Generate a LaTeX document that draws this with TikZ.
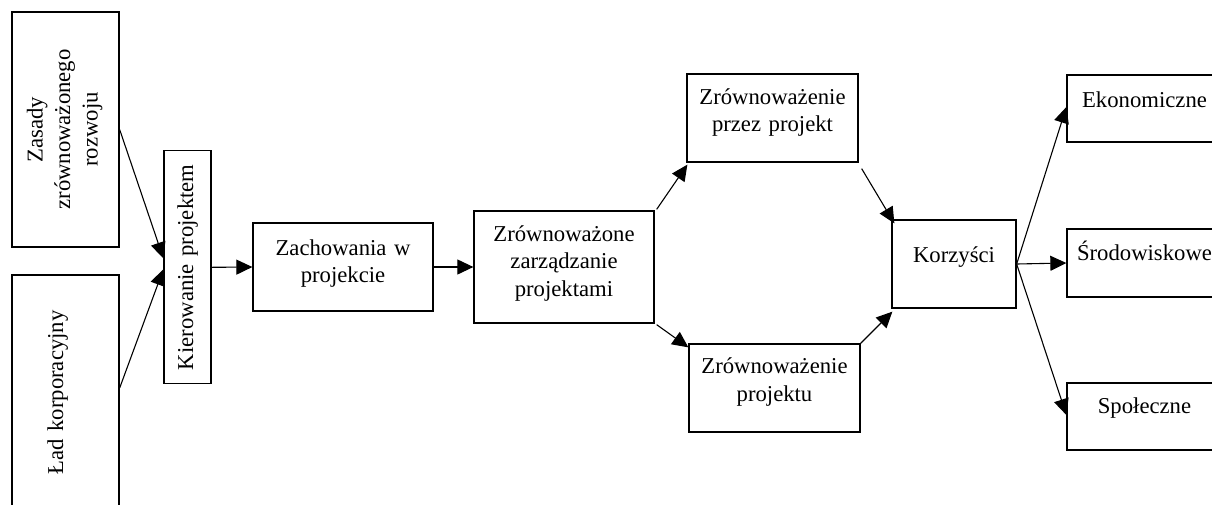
\documentclass[tikz,border=0pt]{standalone}
\usepackage{fontspec}
\setmainfont{Liberation Serif}
\usetikzlibrary{arrows.meta}
\begin{document}
\begin{tikzpicture}[x=1pt,y=-1pt,
  box/.style={draw, line width=1.3pt, inner sep=0pt, align=center,
    font=\fontsize{22.7}{27.5}\selectfont},
  arr/.style={-{Triangle[length=16pt,width=15pt]}, line width=1.1pt}]
\useasboundingbox (0,0) rectangle (1212,504);
\clip (0,0) rectangle (1212,504);
% rotated boxes (local north = image left)
\node[box, rotate=90, text width=235pt, text height=30.5pt, text depth=76.5pt] (zasady) at (65.5,129.5) {Zasady\\zrównoważonego\\rozwoju};
\node[box, rotate=90, text width=235pt, text height=51pt, text depth=56pt] (lad) at (65.5,392.5) {Ład korporacyjny};
\node[box, rotate=90, text width=233pt, text height=29pt, text depth=18pt] (kier) at (187.5,267.3) {Kierowanie projektem};
% horizontal boxes
\node[box, text width=180pt, text height=32pt, text depth=56pt] (zach) at (343,267) {Zachowania w\\projekcie};
\node[box, text width=180pt, text height=30pt, text depth=82pt] (zz) at (564,267) {Zrównoważone\\zarządzanie\\projektami};
\node[box, text width=171pt, text height=30pt, text depth=58pt] (zpp) at (772.5,118) {Zrównoważenie\\przez projekt};
\node[box, text width=171pt, text height=29.5pt, text depth=58.5pt] (zp) at (774.5,388) {Zrównoważenie\\projektu};
\node[box, text width=124pt, text height=42pt, text depth=46pt] (korz) at (954,264) {Korzyści};
\node[box, text width=155pt, text height=32pt, text depth=35pt] (eko) at (1144.5,108.5) {Ekonomiczne};
\node[box, text width=155pt, text height=31pt, text depth=37pt] (sro) at (1144.5,263) {Środowiskowe};
\node[box, text width=155pt, text height=30pt, text depth=37pt] (spo) at (1144.5,416.5) {Społeczne};
% connectors
\draw[arr] (zasady.south) -- ([yshift=9pt]kier.north);
\draw[arr] ([yshift=4.5pt]lad.south) -- ([yshift=-2pt]kier.north);
\draw[arr] (kier.south) -- (zach.west);
\draw[arr] (zach.east) -- (zz.west);
\draw[arr] ([shift={(2pt,1pt)}]zz.north east) -- ([shift={(1pt,-2pt)}]zpp.south west);
\draw[arr] ([shift={(2pt,-1pt)}]zz.south east) -- ([yshift=-4pt]zp.north west);
\draw[arr] ([shift={(3pt,-6pt)}]zpp.south east) -- ([shift={(3pt,-4pt)}]korz.north west);
\draw[arr] (zp.north east) -- ([shift={(1pt,-3pt)}]korz.south west);
\draw[arr] (korz.east) -- ([yshift=1.5pt]eko.west);
\draw[arr] (korz.east) -- (sro.west);
\draw[arr] (korz.east) -- ([yshift=1.5pt]spo.west);
\end{tikzpicture}
\end{document}
